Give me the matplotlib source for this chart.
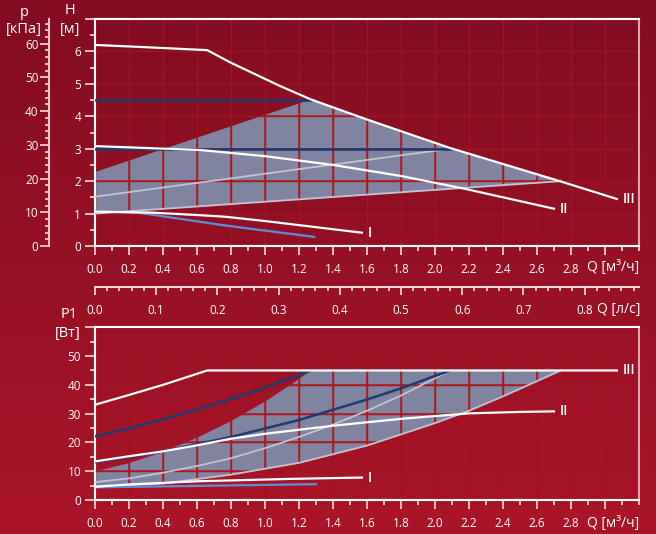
import numpy as np
import matplotlib.pyplot as plt
from matplotlib.colors import LinearSegmentedColormap
from matplotlib.ticker import MultipleLocator

plt.rcParams['font.family'] = ['Open Sans', 'DejaVu Sans']

W, H = 656, 534

# ---- upper chart: head H [m] against flow Q [m3/h]
h3_q = [0.0, 0.3, 0.66, 0.8, 1.09, 1.27, 1.6, 2.09, 2.74, 3.07]
h3_h = [6.2, 6.13, 6.04, 5.65, 4.93, 4.52, 3.9, 3.02, 1.99, 1.45]
h2_q = [0.0, 0.62, 1.0, 1.4, 1.8, 2.17, 2.7]
h2_h = [3.08, 2.96, 2.77, 2.5, 2.16, 1.77, 1.15]
h1_q = [0.0, 0.33, 0.62, 0.77, 1.0, 1.57]
h1_h = [1.06, 1.03, 0.95, 0.9, 0.77, 0.41]
hb_q = [0.0, 0.25, 0.77, 1.29]
hb_h = [1.06, 1.03, 0.63, 0.28]
cp_h = [4.5, 3.0]            # constant pressure lines
cp_qmax = [1.27, 2.09]
pp_q = [[0.0, 2.09], [0.0, 2.74]]   # proportional pressure lines
pp_h = [[1.52, 3.0], [1.0, 2.0]]
area_q = [0.0, 1.27, 1.6, 2.09, 2.74, 0.0]
area_h = [2.28, 4.52, 3.9, 3.02, 1.99, 1.0]

# ---- lower chart: power P1 [W] against flow Q [m3/h]
p3_q = [0.0, 0.2, 0.4, 0.66, 3.07]
p3_p = [33.1, 36.5, 40.0, 45.0, 45.0]
p2_q = [0.0, 0.2, 0.4, 0.6, 0.8, 1.0, 1.4, 1.8, 2.2, 2.5, 2.7]
p2_p = [13.4, 15.2, 16.9, 19.0, 21.3, 23.0, 25.8, 28.2, 30.1, 30.6, 30.8]
p1_q = [0.0, 0.2, 0.6, 1.12, 1.57]
p1_p = [4.6, 5.4, 6.5, 7.3, 7.8]
pb_q = [0.0, 1.3]
pb_p = [4.4, 5.5]
cpa_q = [0.0, 0.2, 0.4, 0.6, 0.8, 1.0, 1.27]
cpa_p = [22.1, 24.9, 28.0, 31.4, 35.1, 39.0, 45.0]
cpb_q = [0.0, 0.4, 0.8, 1.2, 1.6, 1.8, 2.09]
cpb_p = [13.1, 16.9, 21.9, 27.8, 34.9, 38.8, 45.0]
ppa_q = [0.0, 0.2, 0.4, 0.6, 0.8, 1.0, 1.2, 1.4, 1.6, 1.8, 2.09]
ppa_p = [6.2, 7.5, 9.5, 11.8, 14.5, 18.0, 21.9, 26.2, 31.0, 36.3, 45.0]
low_q = [0.0, 0.4, 0.8, 1.2, 1.6, 2.0, 2.2, 2.4, 2.6, 2.74]
low_p = [4.6, 5.7, 8.8, 12.9, 18.9, 26.7, 31.0, 36.0, 41.3, 45.0]
left_q = [0.0, 0.2, 0.4, 0.6, 0.8, 1.0, 1.15, 1.27]
left_p = [9.9, 12.8, 16.7, 21.6, 27.4, 34.2, 40.0, 45.0]

q_ticks = np.round(np.arange(0, 3.01, 0.2), 1)
q_labels = ['%.1f' % v for v in q_ticks[:-1]] + ['']

WHITE = '#ffffff'
DARK = '#1d3b70'
GREY = '#c3c3d3'
LBLUE = '#5b90d8'
SHADE = '#8084a1'
GRID = '#9e1520'
GRID_IN = '#b2181e'
TICK = '#f2dfe2'

fig = plt.figure(figsize=(W / 100, H / 100), dpi=100)

bg = fig.add_axes([0, 0, 1, 1])
cmap = LinearSegmentedColormap.from_list('bg', ['#830c20', '#ab1528'])
bg.imshow(np.linspace(0, 1, 256).reshape(-1, 1), aspect='auto', cmap=cmap,
          extent=[0, 1, 0, 1])
bg.axis('off')


def px(x, y):
    return x / W, 1 - y / H


def style(ax, ymax, ystep, yminor, ylabels):
    ax.set_facecolor('none')
    ax.set_xlim(0, 3.2)
    ax.set_ylim(0, ymax)
    ax.set_xticks(q_ticks)
    ax.set_xticklabels(q_labels)
    ax.xaxis.set_minor_locator(MultipleLocator(0.1))
    yt = np.arange(0, ymax + 0.01, ystep)
    ax.set_yticks(yt)
    ax.set_yticklabels(ylabels)
    ax.yaxis.set_minor_locator(MultipleLocator(yminor))
    ax.tick_params(which='both', direction='out', color=TICK, width=1.2,
                   labelcolor=WHITE, labelsize=8.5)
    ax.tick_params(axis='x', which='major', length=6.5, pad=5.5)
    ax.tick_params(axis='x', which='minor', length=3.5)
    ax.tick_params(axis='y', which='major', length=7, pad=3)
    ax.tick_params(axis='y', which='minor', length=3.5)
    for s in ['left', 'bottom', 'top']:
        ax.spines[s].set_color(WHITE)
        ax.spines[s].set_linewidth(1.5)
    ax.spines['right'].set_color('#dba6ae')
    ax.spines['right'].set_linewidth(1.5)
    ax.grid(True, which='major', color=GRID, lw=1.0)


def shade(ax, q, v, ymax, ystep):
    patch = ax.fill(q, v, color=SHADE, lw=0, zorder=1)[0]
    # the grid shows brighter where it crosses the shaded area
    for x in q_ticks:
        ln = ax.axvline(x, color=GRID_IN, lw=1.1, zorder=1.6)
        ln.set_clip_path(patch)
    for y in np.arange(0, ymax + 0.01, ystep):
        ln = ax.axhline(y, color=GRID_IN, lw=1.1, zorder=1.6)
        ln.set_clip_path(patch)


# upper chart
ax1 = fig.add_axes([95 / W, 1 - 246 / H, 544 / W, 227 / H])
style(ax1, 7, 1, 0.5, [str(i) for i in range(7)] + [''])
shade(ax1, area_q, area_h, 7, 1)
for q, h in zip(pp_q, pp_h):
    ax1.plot(q, h, color=GREY, lw=1.3, zorder=3)
for h, qm in zip(cp_h, cp_qmax):
    ax1.plot([0, qm], [h, h], color=DARK, lw=1.8, zorder=4)
ax1.plot(hb_q, hb_h, color=LBLUE, lw=1.6, zorder=4)
for q, h, name in [(h3_q, h3_h, 'III'), (h2_q, h2_h, 'II'), (h1_q, h1_h, 'I')]:
    ax1.plot(q, h, color=WHITE, lw=1.6, zorder=5)
    ax1.text(q[-1] + 0.035, h[-1], name, color=WHITE, fontsize=10,
             fontweight='semibold', va='center', ha='left')

kpa = ax1.secondary_yaxis(-46 / 544, functions=(lambda h: h * 9.62, lambda p: p / 9.62))
kpa.set_yticks(range(0, 61, 10))
kpa.yaxis.set_minor_locator(MultipleLocator(2))
kpa.spines['left'].set_color('#e8c4ca')
kpa.spines['left'].set_linewidth(1.5)
kpa.tick_params(which='both', direction='out', color=TICK, width=1.2,
                labelcolor=WHITE, labelsize=8.5, pad=1)
kpa.tick_params(which='major', length=6.5)
kpa.tick_params(which='minor', length=3)

ls = ax1.secondary_xaxis(-41 / 227, functions=(lambda q: q / 3.6, lambda l: l * 3.6))
ls.set_xticks(np.round(np.arange(0, 0.81, 0.1), 1))
ls.set_xticklabels(['%.1f' % v for v in np.arange(0, 0.81, 0.1)])
ls.xaxis.set_minor_locator(MultipleLocator(0.02))
ls.spines['bottom'].set_color('#efd6da')
ls.spines['bottom'].set_linewidth(1.5)
ls.tick_params(which='both', direction='out', color=TICK, width=1.2,
               labelcolor=WHITE, labelsize=8.5)
ls.tick_params(which='major', length=6, pad=6.5)
ls.tick_params(which='minor', length=3)

# lower chart
ax2 = fig.add_axes([95 / W, 1 - 500 / H, 544 / W, 172.7 / H])
style(ax2, 60, 10, 5, [str(i) for i in range(0, 51, 10)] + [''])
shade(ax2, left_q + [2.74] + low_q[::-1], left_p + [45.0] + low_p[::-1], 60, 10)
ax2.plot(ppa_q, ppa_p, color=GREY, lw=1.3, zorder=3)
ax2.plot(low_q, low_p, color=GREY, lw=1.3, zorder=3)
ax2.plot(cpa_q, cpa_p, color=DARK, lw=1.8, zorder=4)
ax2.plot(cpb_q, cpb_p, color=DARK, lw=1.8, zorder=4)
ax2.plot(pb_q, pb_p, color=LBLUE, lw=1.6, zorder=4)
for q, p, name in [(p3_q, p3_p, 'III'), (p2_q, p2_p, 'II'), (p1_q, p1_p, 'I')]:
    ax2.plot(q, p, color=WHITE, lw=1.6, zorder=5)
    ax2.text(q[-1] + 0.035, p[-1], name, color=WHITE, fontsize=10,
             fontweight='semibold', va='center', ha='left')

# axis titles
txt = dict(color=WHITE, ha='center', va='center')
fig.text(*px(24, 12), 'p', fontsize=10.5, **txt)
fig.text(*px(24, 30), '[кПа]', fontsize=10.5, **txt)
fig.text(*px(70, 11), 'H', fontsize=10.5, **txt)
fig.text(*px(70, 30), '[м]', fontsize=10.5, **txt)
fig.text(*px(69, 314), 'P1', fontsize=10.5, **txt)
fig.text(*px(68, 333), '[Вт]', fontsize=10.5, **txt)
fig.text(*px(587, 268), 'Q [м³/ч]', fontsize=10, color=WHITE, ha='left', va='center')
fig.text(*px(597, 309), 'Q [л/с]', fontsize=10, color=WHITE, ha='left', va='center')
fig.text(*px(587, 523), 'Q [м³/ч]', fontsize=10, color=WHITE, ha='left', va='center')

fig.savefig('out.png', dpi=100)
